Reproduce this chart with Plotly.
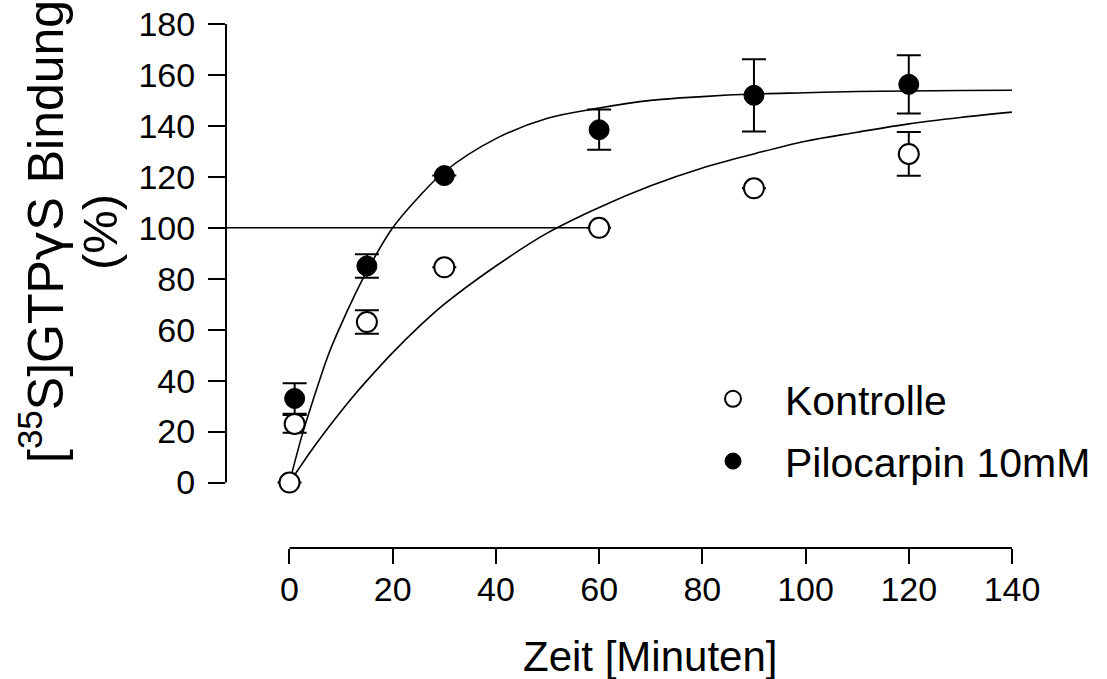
import plotly.graph_objects as go

# ---- data ----
time_kontrolle = [0, 1, 15, 30, 60, 90, 120]
bind_kontrolle = [0, 23, 63, 84.5, 100, 115.5, 129]
err_kontrolle = [0, 3.5, 4.6, 0, 0, 0, 8.6]

time_pilo = [1, 15, 30, 60, 90, 120]
bind_pilo = [33, 85, 120.5, 138.5, 152, 156.3]
err_pilo = [6, 4.6, 0, 7.9, 14.2, 11.4]

# fitted curves
curve_t = [0, 2.5, 5, 7.5, 10, 12.5, 15, 20, 25, 30, 40, 50, 60, 70, 80, 90, 100, 110, 120, 130, 140]
curve_pilo = [0, 19, 35, 50, 62, 73, 83, 100, 112, 122, 135, 143, 147, 150, 151.5, 152.5, 153, 153.5, 153.7, 153.9, 154]
curve_kontrolle = [0, 7.5, 14.7, 21.5, 28, 34.2, 40, 51, 61, 70, 85, 98, 108, 116.5, 123.5, 129, 134, 137.5, 140.8, 143.3, 145.4]

ref_level = 100
ref_end = 60

x_ticks = [0, 20, 40, 60, 80, 100, 120, 140]
y_ticks = [0, 20, 40, 60, 80, 100, 120, 140, 160, 180]

X_MIN, X_MAX = -12.3, 140
Y_MIN, Y_MAX = -25.7, 180

FONT = "Liberation Sans, Arial, sans-serif"

fig = go.Figure()

fig.add_trace(go.Scatter(x=curve_t, y=curve_kontrolle, mode="lines",
                         line=dict(color="black", width=1.6, shape="spline"),
                         showlegend=False, hoverinfo="skip"))
fig.add_trace(go.Scatter(x=curve_t, y=curve_pilo, mode="lines",
                         line=dict(color="black", width=1.6, shape="spline"),
                         showlegend=False, hoverinfo="skip"))

fig.add_trace(go.Scatter(
    x=time_pilo, y=bind_pilo, mode="markers", name="Pilocarpin 10mM",
    marker=dict(symbol="circle", size=20, color="black", line=dict(color="black", width=1)),
    error_y=dict(type="data", array=err_pilo, visible=True, color="black", thickness=2, width=12),
    legendrank=2, legendgroup="b"))

fig.add_trace(go.Scatter(
    x=time_kontrolle, y=bind_kontrolle, mode="markers", name="Kontrolle",
    marker=dict(symbol="circle", size=20, color="white", line=dict(color="black", width=2)),
    error_y=dict(type="data", array=err_kontrolle, visible=True, color="black", thickness=2, width=12),
    legendrank=1, legendgroup="a"))

shapes = [
    # reference line at 100 %
    dict(type="line", xref="x", yref="y", x0=X_MIN, x1=ref_end, y0=ref_level, y1=ref_level,
         line=dict(color="black", width=1.6), layer="below"),
    # y axis line (0..180)
    dict(type="line", xref="paper", yref="y", x0=0, x1=0, y0=y_ticks[0], y1=y_ticks[-1],
         line=dict(color="black", width=2)),
    # x axis line (0..140)
    dict(type="line", xref="x", yref="paper", x0=x_ticks[0], x1=x_ticks[-1], y0=0, y1=0,
         line=dict(color="black", width=2)),
]

annotations = [
    dict(text="[<sup>35</sup>S]GTP<span style='font-family:DejaVu Sans'>γ</span>S Bindung",
         textangle=-90, xref="paper", yref="paper",
         x=(42 - 226) / 786, y=0.603, xanchor="center", yanchor="middle", showarrow=False,
         font=dict(family=FONT, size=50, color="black")),
    dict(text="(%)", textangle=-90, xref="paper", yref="paper",
         x=(100 - 226) / 786, y=0.603, xanchor="center", yanchor="middle", showarrow=False,
         font=dict(family=FONT, size=49, color="black")),
    dict(text="Zeit [Minuten]", xref="paper", yref="paper",
         x=(650 - 226) / 786, y=(548 - 656) / 524, xanchor="center", yanchor="middle",
         showarrow=False, font=dict(family=FONT, size=42, color="black")),
]

fig.update_layout(
    width=1107, height=679,
    margin=dict(l=226, r=95, t=24, b=131, autoexpand=False),
    plot_bgcolor="white", paper_bgcolor="white",
    font=dict(family=FONT, color="black"),
    xaxis=dict(range=[X_MIN, X_MAX], tickvals=x_ticks, ticks="outside", ticklen=15,
               tickwidth=2, tickcolor="black", showline=False, showgrid=False, zeroline=False,
               tickfont=dict(size=34, family=FONT, color="black"), ticklabelstandoff=-4),
    yaxis=dict(range=[Y_MIN, Y_MAX], tickvals=y_ticks, ticks="outside", ticklen=17,
               tickwidth=2, tickcolor="black", showline=False, showgrid=False, zeroline=False,
               tickfont=dict(size=34, family=FONT, color="black"), ticklabelstandoff=6),
    legend=dict(x=(681 - 226) / 786, y=0.348, xanchor="left", yanchor="top",
                font=dict(size=41, family=FONT, color="black"), itemwidth=94,
                bgcolor="rgba(0,0,0,0)", traceorder="grouped", tracegroupgap=6),
    shapes=shapes,
    annotations=annotations,
    showlegend=True,
)

fig.write_html("out.html")
